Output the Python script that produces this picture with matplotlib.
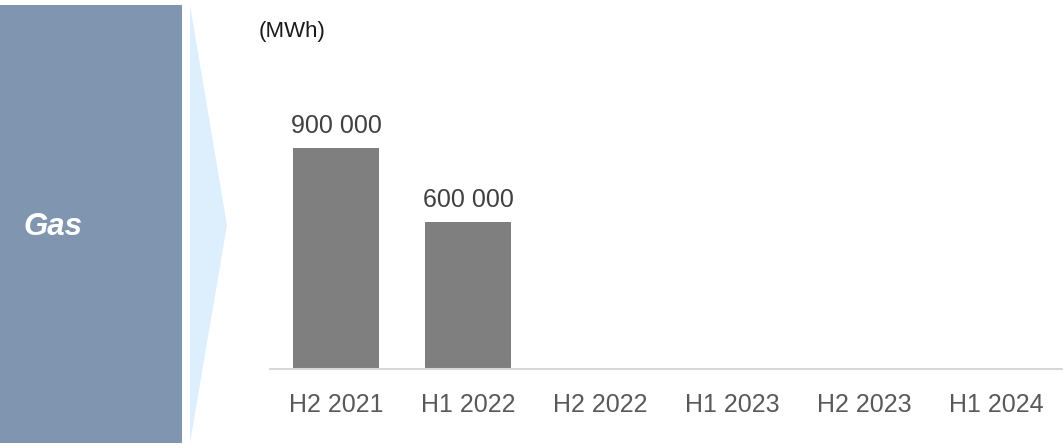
import matplotlib.pyplot as plt
from matplotlib.patches import Rectangle, Polygon

plt.rcParams['font.family'] = ['Liberation Sans', 'DejaVu Sans']

# 数据
periods = ['H2 2021', 'H1 2022', 'H2 2022', 'H1 2023', 'H2 2023', 'H1 2024']
values = [900000, 600000, None, None, None, None]
labels = ['900 000', '600 000', '', '', '', '']
section = 'Gas'
unit = '(MWh)'

W, H = 1064, 448
fig = plt.figure(figsize=(W / 100, H / 100), dpi=100)

# 背景层（像素坐标）
bg = fig.add_axes([0, 0, 1, 1])
bg.set_xlim(0, W)
bg.set_ylim(H, 0)
bg.axis('off')
bg.add_patch(Rectangle((0, 5), 182, 438, color='#8096B0', lw=0))
bg.add_patch(Polygon([(190, 5), (227, 225), (190, 443)], closed=True,
                     color='#DDEEFD', lw=0))
bg.text(23, 227, section, color='white', fontsize=22.5, fontweight='bold',
        fontstyle='italic', va='center', ha='left')
bg.text(259, 32, unit, color='#1a1a1a', fontsize=16, va='center', ha='left')

# 柱状图
ax = fig.add_axes([270 / W, (H - 369) / H, 792 / W, 245.6 / H])
xs = list(range(len(periods)))
for x, v, lab in zip(xs, values, labels):
    if v is None:
        continue
    ax.bar(x, v, width=0.65, color='#7F7F7F')
    ax.text(x, v + 40000, lab, ha='center', va='bottom', fontsize=18,
            color='#404040')
ax.set_xlim(-0.5, 5.5)
ax.set_ylim(0, 1000000)
ax.set_xticks(xs)
ax.set_xticklabels(periods, fontsize=18, color='#595959')
ax.tick_params(axis='x', length=0, pad=17)
ax.set_yticks([])
for s in ['top', 'right', 'left']:
    ax.spines[s].set_visible(False)
ax.spines['bottom'].set_color('#D9D9D9')
ax.spines['bottom'].set_linewidth(1.5)
ax.patch.set_alpha(0)

fig.savefig('out.png', dpi=100)
